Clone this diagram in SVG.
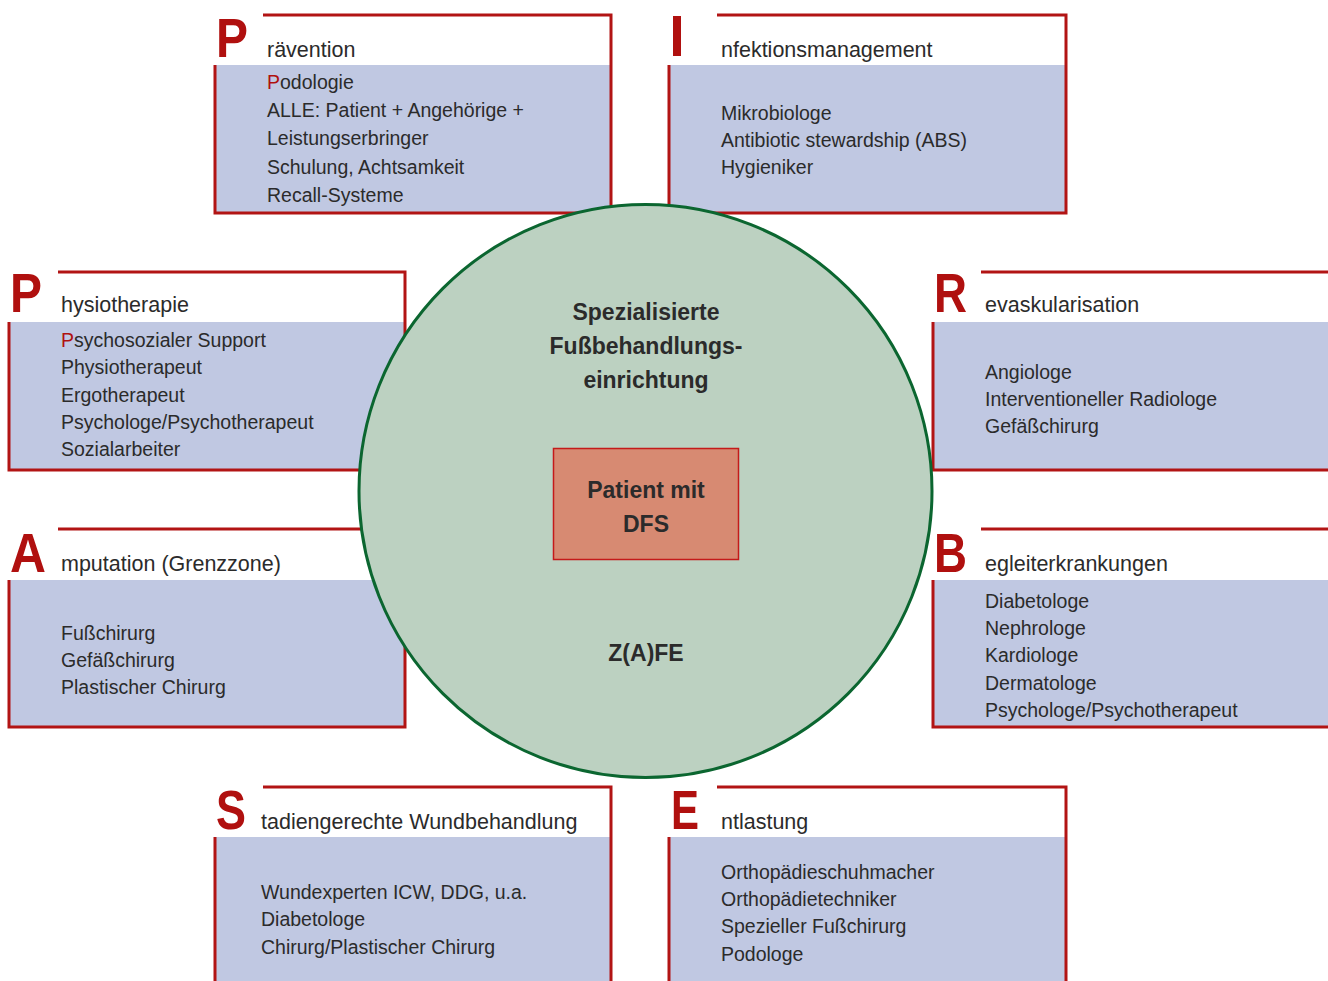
<svg xmlns="http://www.w3.org/2000/svg" width="1328" height="981" viewBox="0 0 1328 981">
<style>
.fill{fill:#c0c8e2;stroke:none}
.brd{fill:none;stroke:#b21414;stroke-width:3}
.big{font-family:"Liberation Sans",Arial,sans-serif;font-weight:bold;font-size:56px;fill:#b0100f}
.hd{font-family:"Liberation Sans",Arial,sans-serif;font-size:21.5px;fill:#2b2b2b}
.it{font-family:"Liberation Sans",Arial,sans-serif;font-size:19.5px;fill:#2b2b2b}
.red{fill:#b0100f}
.ctr{font-family:"Liberation Sans",Arial,sans-serif;font-weight:bold;font-size:23px;fill:#2b2b2b;text-anchor:middle}
</style>
<rect width="1328" height="981" fill="#ffffff"/>

<g id="praevention">
<rect class="fill" x="215" y="65" width="396" height="148"/>
<path class="brd" d="M263,15 H611 V213 H215 V65"/>
<text class="big" x="216" y="57" textLength="32" lengthAdjust="spacingAndGlyphs">P</text>
<text class="hd" x="267" y="57">rävention</text>
<text class="it" x="267" y="89"><tspan class="red">P</tspan>odologie</text>
<text class="it" x="267" y="117">ALLE: Patient + Angehörige +</text>
<text class="it" x="267" y="145">Leistungserbringer</text>
<text class="it" x="267" y="174">Schulung, Achtsamkeit</text>
<text class="it" x="267" y="202">Recall-Systeme</text>
</g>

<g id="infektion">
<rect class="fill" x="669" y="65" width="397" height="148"/>
<path class="brd" d="M717,15 H1066 V213 H669 V65"/>
<rect x="673" y="16" width="8" height="40" fill="#b0100f"/>
<text class="hd" x="721" y="57">nfektionsmanagement</text>
<text class="it" x="721" y="120">Mikrobiologe</text>
<text class="it" x="721" y="147">Antibiotic stewardship (ABS)</text>
<text class="it" x="721" y="174">Hygieniker</text>
</g>

<g id="physio">
<rect class="fill" x="9" y="322" width="396" height="148"/>
<path class="brd" d="M58,272 H405 V470 H9 V322"/>
<text class="big" x="10" y="312" textLength="32" lengthAdjust="spacingAndGlyphs">P</text>
<text class="hd" x="61" y="312">hysiotherapie</text>
<text class="it" x="61" y="347"><tspan class="red">P</tspan>sychosozialer Support</text>
<text class="it" x="61" y="374">Physiotherapeut</text>
<text class="it" x="61" y="402">Ergotherapeut</text>
<text class="it" x="61" y="429">Psychologe/Psychotherapeut</text>
<text class="it" x="61" y="456">Sozialarbeiter</text>
</g>

<g id="revaskularisation">
<rect class="fill" x="933" y="322" width="395" height="148"/>
<path class="brd" d="M981,272 H1328 M1328,470 H933 V322"/>
<text class="big" x="934" y="312" textLength="33" lengthAdjust="spacingAndGlyphs">R</text>
<text class="hd" x="985" y="312">evaskularisation</text>
<text class="it" x="985" y="379">Angiologe</text>
<text class="it" x="985" y="406">Interventioneller Radiologe</text>
<text class="it" x="985" y="433">Gefäßchirurg</text>
</g>

<g id="amputation">
<rect class="fill" x="9" y="580" width="396" height="147"/>
<path class="brd" d="M58,529 H405 V727 H9 V580"/>
<text class="big" x="10" y="572" textLength="36" lengthAdjust="spacingAndGlyphs">A</text>
<text class="hd" x="61" y="571">mputation (Grenzzone)</text>
<text class="it" x="61" y="640">Fußchirurg</text>
<text class="it" x="61" y="667">Gefäßchirurg</text>
<text class="it" x="61" y="694">Plastischer Chirurg</text>
</g>

<g id="begleiterkrankungen">
<rect class="fill" x="933" y="580" width="395" height="147"/>
<path class="brd" d="M981,529 H1328 M1328,727 H933 V580"/>
<text class="big" x="934" y="572" textLength="33" lengthAdjust="spacingAndGlyphs">B</text>
<text class="hd" x="985" y="571">egleiterkrankungen</text>
<text class="it" x="985" y="608">Diabetologe</text>
<text class="it" x="985" y="635">Nephrologe</text>
<text class="it" x="985" y="662">Kardiologe</text>
<text class="it" x="985" y="690">Dermatologe</text>
<text class="it" x="985" y="717">Psychologe/Psychotherapeut</text>
</g>

<g id="wundbehandlung">
<rect class="fill" x="215" y="837" width="396" height="146"/>
<path class="brd" d="M215,983 V837 M263,787 H611 V983"/>
<text class="big" x="216" y="829" textLength="30" lengthAdjust="spacingAndGlyphs">S</text>
<text class="hd" x="261" y="829">tadiengerechte Wundbehandlung</text>
<text class="it" x="261" y="899">Wundexperten ICW, DDG, u.a.</text>
<text class="it" x="261" y="926">Diabetologe</text>
<text class="it" x="261" y="954">Chirurg/Plastischer Chirurg</text>
</g>

<g id="entlastung">
<rect class="fill" x="669" y="837" width="397" height="146"/>
<path class="brd" d="M669,983 V837 M717,787 H1066 V983"/>
<text class="big" x="671" y="829" textLength="28" lengthAdjust="spacingAndGlyphs">E</text>
<text class="hd" x="721" y="829">ntlastung</text>
<text class="it" x="721" y="879">Orthopädieschuhmacher</text>
<text class="it" x="721" y="906">Orthopädietechniker</text>
<text class="it" x="721" y="933">Spezieller Fußchirurg</text>
<text class="it" x="721" y="961">Podologe</text>
</g>

<g id="einrichtung">
<circle cx="645.5" cy="491" r="286.5" fill="#bcd1c1" stroke="#0b6630" stroke-width="3"/>
<text class="ctr" x="646" y="320">Spezialisierte</text>
<text class="ctr" x="646" y="354">Fußbehandlungs-</text>
<text class="ctr" x="646" y="388">einrichtung</text>
<text class="ctr" x="646" y="661">Z(A)FE</text>
</g>

<g id="patient">
<rect x="553.5" y="448.5" width="185" height="111" fill="#d78a72" stroke="#c41a1a" stroke-width="1.5"/>
<text class="ctr" x="646" y="498">Patient mit</text>
<text class="ctr" x="646" y="532">DFS</text>
</g>

<g id="connectors"/>
</svg>
